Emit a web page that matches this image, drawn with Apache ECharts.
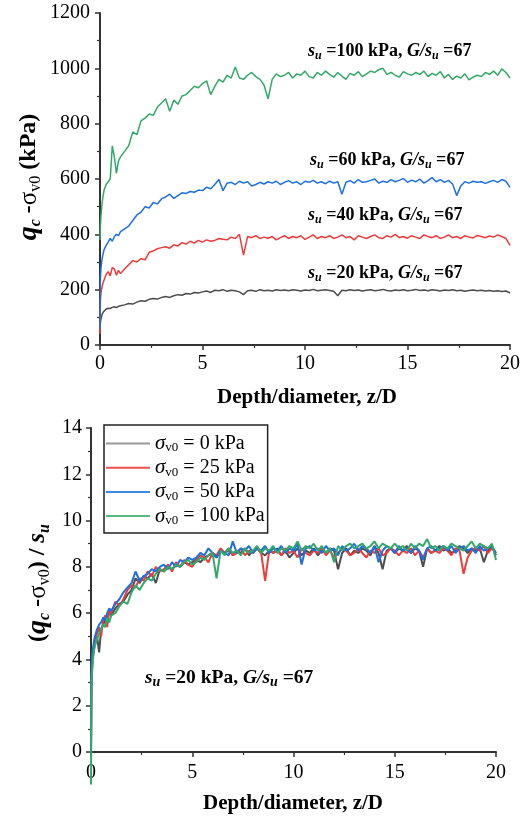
<!DOCTYPE html>
<html>
<head>
<meta charset="utf-8">
<script src="https://cdn.jsdelivr.net/npm/echarts@6/dist/echarts.min.js"></script>
<style>
html,body{margin:0;padding:0;background:#fff;}
#chart{width:527px;height:816px;}
</style>
</head>
<body>
<div id="chart"></div>
<script>
// Depth / diameter sampling positions (z/D)
var depth = [0,0.02,0.05,0.1,0.15,0.2,0.3,0.4,0.5,0.6,0.7,0.8,0.9,1.0,
1.2,1.4,1.6,1.8,2.0,2.2,2.4,2.6,2.8,3.0,
3.2,3.4,3.6,3.8,4.0,4.2,4.4,4.6,4.8,5.0,
5.2,5.4,5.6,5.8,6.0,6.2,6.4,6.6,6.8,7.0,
7.2,7.4,7.6,7.8,8.0,8.2,8.4,8.6,8.8,9.0,
9.2,9.4,9.6,9.8,10.0,10.2,10.4,10.6,10.8,11.0,
11.2,11.4,11.6,11.8,12.0,12.2,12.4,12.6,12.8,13.0,
13.2,13.4,13.6,13.8,14.0,14.2,14.4,14.6,14.8,15.0,
15.2,15.4,15.6,15.8,16.0,16.2,16.4,16.6,16.8,17.0,
17.2,17.4,17.6,17.8,18.0,18.2,18.4,18.6,18.8,19.0,
19.2,19.4,19.6,19.8,20.0];

// Top panel: qc - sigma_v0 (kPa)
var su20 = [40,80,95,110,118,125,130,133,132,136,138,135,140,142,
145,150,148,155,160,158,165,168,166,172,
175,172,178,182,180,186,184,190,188,192,
195,190,198,196,200,194,198,196,192,182,
196,198,194,200,196,198,195,200,197,199,
196,200,198,195,199,197,201,196,198,200,
197,194,178,198,196,200,197,199,195,198,
200,196,198,201,197,195,199,197,200,196,
198,201,197,199,196,200,198,195,199,197,
200,196,198,194,197,199,196,198,195,197,
194,196,193,195,188];
var su40 = [40,160,190,210,225,235,255,265,250,280,275,252,270,258,
275,290,305,300,312,308,335,340,348,352,
355,350,362,358,370,365,375,368,378,372,
380,375,378,385,382,380,390,385,400,325,
392,388,395,385,390,386,392,380,388,395,
385,392,388,395,382,390,398,385,392,388,
395,385,390,398,388,392,380,395,390,385,
392,398,388,385,395,390,400,388,392,386,
395,390,385,398,392,388,395,385,390,398,
388,392,385,395,390,387,396,392,388,394,
390,398,392,385,360];
var su60 = [60,240,280,310,330,345,360,372,385,375,392,400,395,410,
420,430,450,470,480,500,495,515,510,528,
535,545,530,540,550,548,555,552,560,558,
570,565,580,598,558,585,588,580,592,585,
590,575,580,588,582,590,585,592,580,588,
594,585,590,580,592,588,595,585,590,583,
592,585,590,545,588,594,585,598,588,590,
595,600,585,592,588,598,590,595,602,588,
596,590,600,585,594,605,590,598,588,595,
582,540,575,590,585,592,588,590,584,590,
595,588,598,592,570];
var su100 = [380,430,470,510,540,560,580,590,600,720,680,620,665,680,
700,720,770,760,810,820,835,830,860,875,
890,845,885,870,900,905,920,935,930,945,
955,905,935,960,950,975,965,1005,965,960,
975,985,970,960,940,890,960,980,970,975,
985,965,980,975,990,970,965,985,975,990,
978,968,985,972,960,982,975,988,970,980,
990,985,995,1000,978,985,975,968,988,980,
975,985,978,990,970,982,975,988,965,978,
960,972,965,980,958,968,975,970,985,978,
990,975,998,985,965];

// Bottom panel: (qc - sigma_v0)/su for su = 20 kPa
var sv0 = [0.1,2.8,3.6,4.2,4.5,4.7,5.0,4.3,5.3,5.5,5.7,5.8,6.0,5.9,
6.2,6.4,6.5,6.8,7.0,7.5,7.3,7.6,7.5,7.7,
7.3,7.9,7.8,8.0,7.9,8.1,8.0,8.2,8.1,8.2,
8.3,8.2,8.4,8.5,8.6,8.4,8.7,8.6,8.8,8.5,
8.7,8.6,8.8,8.5,8.7,8.8,8.6,8.5,8.7,8.6,
8.8,8.5,8.7,8.4,8.6,8.8,8.5,8.7,8.6,8.8,
8.5,8.7,8.6,8.8,8.7,7.9,8.6,8.8,8.5,8.7,
8.6,8.8,8.7,8.5,8.9,8.6,7.9,8.7,8.8,8.6,
8.8,8.7,8.9,8.6,8.8,8.7,8.0,8.8,8.6,8.7,
8.9,8.7,8.8,8.6,8.7,8.9,8.8,8.6,8.8,8.7,
8.8,8.2,8.7,8.9,8.5];
var sv25 = [0.1,3.0,3.8,4.4,4.6,4.9,5.1,5.4,5.0,5.7,5.9,5.4,6.1,6.0,
6.5,6.3,6.6,7.0,7.2,7.1,7.5,7.4,7.8,7.6,
8.0,7.8,7.9,8.1,7.8,8.2,8.0,8.3,8.1,8.0,
8.3,8.5,8.4,8.2,8.6,8.5,8.8,8.6,8.7,8.5,
8.6,8.8,8.5,8.7,8.6,8.8,8.6,7.4,8.7,8.6,
8.7,8.5,8.8,8.6,8.7,8.4,8.8,8.6,8.5,8.7,
8.6,8.8,8.5,8.7,8.4,8.6,8.8,8.7,8.5,8.6,
8.8,8.6,8.4,8.7,8.6,8.8,8.5,8.6,8.8,8.7,
8.5,8.7,8.6,8.8,8.5,8.7,8.4,8.8,8.6,8.7,
8.6,8.8,8.7,8.5,8.8,8.7,7.7,8.4,8.7,8.8,
8.7,8.9,8.6,8.8,8.6];
var sv50 = [0.1,3.2,4.0,4.5,4.8,5.0,5.3,5.5,5.6,5.8,5.7,6.0,6.2,6.1,
6.4,6.6,6.9,7.1,7.3,7.8,7.4,7.6,7.7,7.9,
7.8,8.0,8.1,7.9,8.2,8.0,8.3,8.2,8.4,8.3,
8.4,8.6,8.5,8.8,8.6,8.4,8.7,8.6,8.5,9.1,
8.6,8.8,8.7,8.9,8.6,8.8,8.7,8.9,8.6,8.8,
8.7,8.9,8.6,8.8,8.7,9.0,8.1,8.8,8.9,8.7,
8.8,8.6,8.9,8.7,8.8,8.5,8.9,8.7,8.8,9.0,
8.7,8.9,8.8,8.6,8.9,8.2,8.7,8.9,8.8,8.6,
8.9,8.7,8.8,8.6,8.9,8.7,8.3,8.8,8.9,8.7,
8.8,8.9,8.7,8.9,8.6,8.8,8.9,8.7,8.8,8.6,
8.9,8.7,8.8,8.9,8.6];
var sv100 = [-1.4,2.6,3.4,4.0,4.4,4.6,4.9,5.1,5.3,5.5,5.4,5.8,5.6,5.9,
6.0,6.3,6.5,6.4,6.9,7.2,7.0,7.3,7.5,7.4,
7.7,7.9,7.8,8.0,7.9,8.1,8.0,8.2,8.3,8.1,
8.2,8.4,8.3,8.5,8.6,7.5,8.7,8.5,8.8,8.6,
8.7,8.5,8.8,8.6,8.7,8.9,8.6,8.8,8.7,8.9,
8.6,8.8,8.7,8.9,8.8,9.1,8.7,8.9,8.8,9.0,
8.7,8.9,8.6,8.8,8.2,8.9,8.7,8.9,9.0,8.8,
8.9,9.0,8.8,8.9,9.1,8.8,9.0,8.9,8.8,9.0,
8.8,8.9,8.7,9.0,8.8,9.0,8.9,9.2,8.8,8.9,
8.7,8.9,8.8,9.0,8.9,8.8,8.7,8.9,9.1,8.8,
9.0,8.9,8.8,9.0,8.3];

var xTicks = [0,5,10,15,20];
var topYTicks = [0,200,400,600,800,1000,1200];
var botYTicks = [0,2,4,6,8,10,12,14];

var topNames = ['su = 20 kPa','su = 40 kPa','su = 60 kPa','su = 100 kPa'];
var botNames = ['σv0 = 0 kPa','σv0 = 25 kPa','σv0 = 50 kPa','σv0 = 100 kPa'];
var legendLabels = ['0','25','50','100'];

var colGray = '#4d4d4d', colRed = '#ee3b3b', colBlue = '#1f6fe3', colGreen = '#34a86a';
var FF = 'Liberation Serif';

function pairs(arr){ return depth.map(function(d,i){ return [d, arr[i]]; }); }

var chart = echarts.init(document.getElementById('chart'), null, {renderer:'canvas'});

function xAxisCfg(gi){
  return {
    type:'value', gridIndex:gi, min:0, max:20, interval:5,
    axisLine:{show:true, onZero:false, lineStyle:{color:'#333', width:2}},
    axisTick:{show:true, inside:false, length:5, lineStyle:{color:'#333', width:1.5}},
    minorTick:{show:true, splitNumber:2, length:3, lineStyle:{color:'#333', width:1.2}},
    splitLine:{show:false},
    axisLabel:{fontFamily:FF, fontSize:20, color:'#000', margin: gi===0 ? 9 : 11,
      formatter:function(v){ return xTicks.indexOf(v)>=0 ? String(v) : ''; }}
  };
}
function yAxisCfg(gi, max, interval, ticks, margin){
  return {
    type:'value', gridIndex:gi, min:0, max:max, interval:interval,
    axisLine:{show:true, onZero:false, lineStyle:{color:'#333', width:2}},
    axisTick:{show:true, inside:false, length:5, lineStyle:{color:'#333', width:1.5}},
    minorTick:{show:true, splitNumber:2, length:3, lineStyle:{color:'#333', width:1.2}},
    splitLine:{show:false},
    axisLabel:{fontFamily:FF, fontSize:20, color:'#000', margin:margin,
      formatter:function(v){ return ticks.indexOf(v)>=0 ? String(v) : ''; }}
  };
}

function lineSeries(name, arr, color, xi, width){
  return {
    name:name, type:'line', xAxisIndex:xi, yAxisIndex:xi, data:pairs(arr),
    showSymbol:false, symbol:'none', clip:false,
    lineStyle:{color:color, width:width}, itemStyle:{color:color},
    emphasis:{disabled:true}
  };
}

function makeAnnRich(fs, subfs){
  return {
    b:{fontFamily:FF, fontWeight:'bold', fontSize:fs, lineHeight:fs+3, color:'#000'},
    i:{fontFamily:FF, fontWeight:'bold', fontStyle:'italic', fontSize:fs, lineHeight:fs+3, color:'#000'},
    sub:{fontFamily:FF, fontWeight:'bold', fontStyle:'italic', fontSize:subfs, color:'#000', verticalAlign:'bottom'}
  };
}
var annRichTop = makeAnnRich(18, 12);
var annRichBot = makeAnnRich(19.5, 14);
function annText(val){
  return '{i|s}{sub|u}{b| =' + val + ' kPa, }{i|G/s}{sub|u}{b| =67}';
}
var titleRich = {
  q:{fontFamily:FF, fontWeight:'bold', fontStyle:'italic', fontSize:28, lineHeight:29, color:'#000'},
  b:{fontFamily:FF, fontWeight:'bold', fontSize:24, lineHeight:29, color:'#000'},
  s:{fontFamily:FF, fontWeight:'normal', fontSize:25, lineHeight:29, color:'#000'},
  si:{fontFamily:FF, fontWeight:'bold', fontStyle:'italic', fontSize:25, lineHeight:29, color:'#000'},
  sub:{fontFamily:FF, fontWeight:'bold', fontStyle:'italic', fontSize:16, color:'#000', verticalAlign:'bottom'},
  sub2:{fontFamily:FF, fontWeight:'normal', fontSize:16, color:'#000', verticalAlign:'bottom'}
};

var legendColors = ['#9a9a9a','#f05050','#3f86ea','#5ab884'];

var option = {
  animation:false,
  backgroundColor:'#fff',
  grid:[
    {left:100, top:13, width:410, height:332},
    {left:91, top:428, width:405, height:324}
  ],
  xAxis:[xAxisCfg(0), xAxisCfg(1)],
  yAxis:[yAxisCfg(0,1200,200,topYTicks,10), yAxisCfg(1,14,2,botYTicks,9)],
  legend:{
    orient:'vertical', left:104, top:425,
    padding:[8,3,6,2], itemGap:2.7, itemWidth:44, itemHeight:2, icon:'rect',
    borderColor:'#222', borderWidth:1.5, backgroundColor:'#fff',
    selectedMode:false,
    textStyle:{fontFamily:FF, fontSize:20, color:'#000',
      rich:{
        s:{fontFamily:FF, fontSize:21, fontStyle:'italic', color:'#000', lineHeight:22},
        sub:{fontFamily:FF, fontSize:13, color:'#000', verticalAlign:'bottom'},
        n:{fontFamily:FF, fontSize:20, color:'#000', lineHeight:22}
      }},
    formatter:function(name){
      var k = botNames.indexOf(name);
      return '{s|σ}{sub|v0}{n| = ' + legendLabels[k] + ' kPa}';
    },
    data:botNames.map(function(n,i){ return {name:n, itemStyle:{color:legendColors[i]}}; })
  },
  series:[
    lineSeries(topNames[0], su20, colGray, 0, 1.5),
    lineSeries(topNames[1], su40, colRed, 0, 1.5),
    lineSeries(topNames[2], su60, colBlue, 0, 1.5),
    lineSeries(topNames[3], su100, colGreen, 0, 1.5),
    lineSeries(botNames[0], sv0, colGray, 1, 2),
    lineSeries(botNames[1], sv25, colRed, 1, 2),
    lineSeries(botNames[2], sv50, colBlue, 1, 2),
    lineSeries(botNames[3], sv100, colGreen, 1, 2)
  ],
  graphic:[
    {type:'text', x:29, y:177, rotation:Math.PI/2, style:{
      text:'{q|q}{sub|c}{b| -}{s|σ}{sub2|v0}{b| (kPa)}', rich:titleRich, align:'center', verticalAlign:'middle'}},
    {type:'text', x:38, y:583, rotation:Math.PI/2, style:{
      text:'{b|(}{q|q}{sub|c}{b| -}{s|σ}{sub2|v0}{b|) / }{si|s}{sub|u}', rich:titleRich, align:'center', verticalAlign:'middle'}},
    {type:'text', x:307, y:398, style:{text:'Depth/diameter, z/D', fontFamily:FF, fontWeight:'bold', fontSize:21, fill:'#000', align:'center', verticalAlign:'middle'}},
    {type:'text', x:293, y:804, style:{text:'Depth/diameter, z/D', fontFamily:FF, fontWeight:'bold', fontSize:21, fill:'#000', align:'center', verticalAlign:'middle'}},
    {type:'text', x:308, y:51, style:{text:annText(100), rich:annRichTop, align:'left', verticalAlign:'middle'}},
    {type:'text', x:310, y:160, style:{text:annText(60), rich:annRichTop, align:'left', verticalAlign:'middle'}},
    {type:'text', x:308, y:215, style:{text:annText(40), rich:annRichTop, align:'left', verticalAlign:'middle'}},
    {type:'text', x:308, y:273, style:{text:annText(20), rich:annRichTop, align:'left', verticalAlign:'middle'}},
    {type:'text', x:145, y:678, style:{text:annText(20), rich:annRichBot, align:'left', verticalAlign:'middle'}}
  ]
};
chart.setOption(option);
</script>
</body>
</html>
